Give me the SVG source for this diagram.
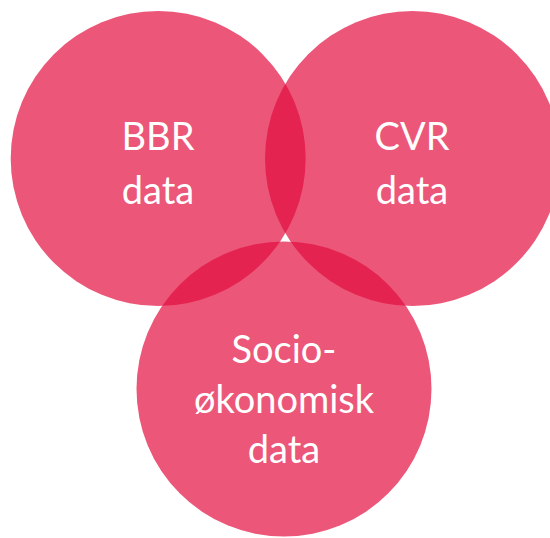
<svg xmlns="http://www.w3.org/2000/svg" width="550" height="538" viewBox="0 0 550 538">
  <style>
    .c { fill: #E20E40; fill-opacity: 0.7; }
    .t { font-family: Lato, "Open Sans", "Liberation Sans", sans-serif; font-size: 38px; fill: #FFFFFF; text-anchor: middle; }
  </style>
  <rect width="550" height="538" fill="#FFFFFF"/>
  <g id="bbr">
    <circle class="c" cx="158.2" cy="158.5" r="147.5"/>
    <text class="t" x="158" y="150">BBR</text>
    <text class="t" x="158" y="204">data</text>
  </g>
  <g id="cvr">
    <circle class="c" cx="412.5" cy="158.5" r="147.5"/>
    <text class="t" x="412" y="150">CVR</text>
    <text class="t" x="412" y="204">data</text>
  </g>
  <g id="socio">
    <circle class="c" cx="284" cy="389" r="147.5"/>
    <text class="t" x="284" y="363">Socio-</text>
    <text class="t" x="284" y="413">økonomisk</text>
    <text class="t" x="284" y="463">data</text>
  </g>
</svg>
